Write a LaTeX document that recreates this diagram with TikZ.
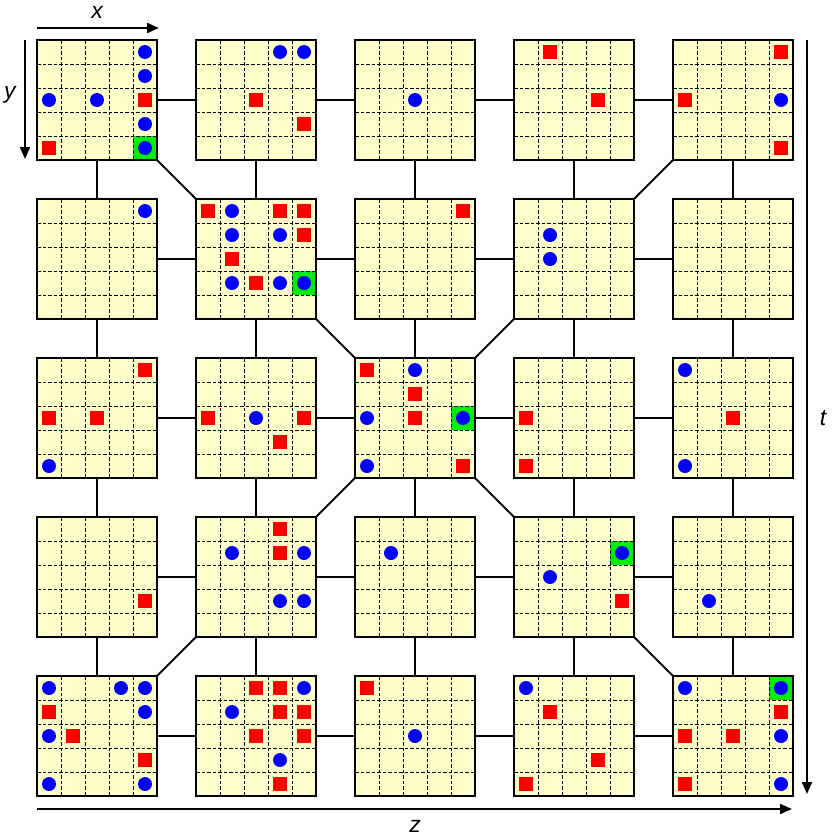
\documentclass[tikz,border=0pt]{standalone}
\usepackage{fontspec}
\setmainfont{Liberation Sans}
\usetikzlibrary{arrows.meta}
\definecolor{boardyellow}{HTML}{FFFFCC}
\definecolor{cellgreen}{HTML}{00EE00}
\definecolor{piecered}{HTML}{FF0000}
\definecolor{pieceblue}{HTML}{0000FF}
\tikzset{
  boardbg/.style={rectangle,fill=boardyellow,minimum size=120pt,inner sep=0pt,outer sep=0pt},
  boardborder/.style={draw=black,line width=2.8pt},
  gridline/.style={black,line width=1pt,dash pattern=on 3.5pt off 2pt},
  greencell/.style={fill=cellgreen},
  redpiece/.style={fill=piecered},
  bluepiece/.style={fill=pieceblue},
  conn/.style={black,line width=2pt},
  axis/.style={black,line width=2pt,-{Triangle[length=12pt,width=10pt]}},
  axislabel/.style={font=\fontsize{23}{26}\selectfont\itshape,inner sep=0pt}
}
\newcommand\drawboard[5]{%
  \pgfmathsetmacro\bx{37+159*(#2-1)}%
  \pgfmathsetmacro\by{40+159*(#1-1)}%
  \node[boardbg] (b#1#2) at ({\bx+60},{\by+60}) {};
  \begin{scope}[shift={(\bx,\by)}]
    \foreach \i/\j in {#5} {\ifnum\i>0 \fill[greencell] ({24*(\i-1)},{24*(\j-1)}) rectangle ++(24,24);\fi}
    \foreach \k in {1,...,4} {
      \draw[gridline] ({24*\k},0) -- ({24*\k},120);
      \draw[gridline] (0,{24*\k}) -- (120,{24*\k});
    }
    \foreach \i/\j in {#3} {\ifnum\i>0 \fill[redpiece] ({24*\i-19},{24*\j-19}) rectangle ++(14,14);\fi}
    \foreach \i/\j in {#4} {\ifnum\i>0 \fill[bluepiece] ({24*\i-12},{24*\j-12}) circle (7pt);\fi}
  \end{scope}
  \draw[boardborder] (b#1#2.north west) rectangle (b#1#2.south east);
}
\begin{document}
\begin{tikzpicture}[x=1pt,y=-1pt]
\useasboundingbox (0,0) rectangle (837,838);
% boards: row, col, reds (col/row), blues, greens
\drawboard{1}{1}{5/3,1/5}{5/1,5/2,1/3,3/3,5/4,5/5}{5/5}
\drawboard{1}{2}{3/3,5/4}{4/1,5/1}{0/0}
\drawboard{1}{3}{0/0}{3/3}{0/0}
\drawboard{1}{4}{2/1,4/3}{0/0}{0/0}
\drawboard{1}{5}{5/1,1/3,5/5}{5/3}{0/0}
\drawboard{2}{1}{0/0}{5/1}{0/0}
\drawboard{2}{2}{1/1,4/1,5/1,5/2,2/3,3/4}{2/1,2/2,4/2,2/4,4/4,5/4}{5/4}
\drawboard{2}{3}{5/1}{0/0}{0/0}
\drawboard{2}{4}{0/0}{2/2,2/3}{0/0}
\drawboard{2}{5}{0/0}{0/0}{0/0}
\drawboard{3}{1}{5/1,1/3,3/3}{1/5}{0/0}
\drawboard{3}{2}{1/3,5/3,4/4}{3/3}{0/0}
\drawboard{3}{3}{1/1,3/2,3/3,5/5}{3/1,1/3,5/3,1/5}{5/3}
\drawboard{3}{4}{1/3,1/5}{0/0}{0/0}
\drawboard{3}{5}{3/3}{1/1,1/5}{0/0}
\drawboard{4}{1}{5/4}{0/0}{0/0}
\drawboard{4}{2}{4/1,4/2}{2/2,5/2,4/4,5/4}{0/0}
\drawboard{4}{3}{0/0}{2/2}{0/0}
\drawboard{4}{4}{5/4}{5/2,2/3}{5/2}
\drawboard{4}{5}{0/0}{2/4}{0/0}
\drawboard{5}{1}{1/2,2/3,5/4}{1/1,4/1,5/1,5/2,1/3,1/5,5/5}{0/0}
\drawboard{5}{2}{3/1,4/1,4/2,5/2,3/3,5/3,4/5}{5/1,2/2,4/4}{0/0}
\drawboard{5}{3}{1/1}{3/3}{0/0}
\drawboard{5}{4}{2/2,4/4,1/5}{1/1}{0/0}
\drawboard{5}{5}{5/2,1/3,3/3,1/5}{1/1,5/1,5/3,5/5}{5/1}
% horizontal connectors
\foreach \r in {1,...,5}{
  \foreach \c in {1,...,4}{
    \pgfmathtruncatemacro\cn{\c+1}
    \draw[conn] (b\r\c.east) -- (b\r\cn.west);
  }
}
% vertical connectors
\foreach \r in {1,...,4}{
  \foreach \c in {1,...,5}{
    \pgfmathtruncatemacro\rn{\r+1}
    \draw[conn] (b\r\c.south) -- (b\rn\c.north);
  }
}
% diagonal connectors
\draw[conn] (b11.south east) -- (b22.north west);
\draw[conn] (b15.south west) -- (b24.north east);
\draw[conn] (b22.south east) -- (b33.north west);
\draw[conn] (b24.south west) -- (b33.north east);
\draw[conn] (b33.south west) -- (b42.north east);
\draw[conn] (b33.south east) -- (b44.north west);
\draw[conn] (b42.south west) -- (b51.north east);
\draw[conn] (b44.south east) -- (b55.north west);
% axes
\coordinate (xs) at (37,28);
\coordinate (xe) at (159,28);
\coordinate (ys) at (25,40);
\coordinate (ye) at (25,159);
\coordinate (ts) at (807,40);
\coordinate (te) at (807,794);
\coordinate (zs) at (37,809);
\coordinate (ze) at (792,809);
\draw[axis] (xs) -- (xe);
\draw[axis] (ys) -- (ye);
\draw[axis] (ts) -- (te);
\draw[axis] (zs) -- (ze);
\node[axislabel] (xl) at (97,12) {x};
\node[axislabel] (yl) at (10,95) {y};
\node[axislabel] (tl) at (823,418) {t};
\node[axislabel] (zl) at (415,826) {z};
\end{tikzpicture}
\end{document}
